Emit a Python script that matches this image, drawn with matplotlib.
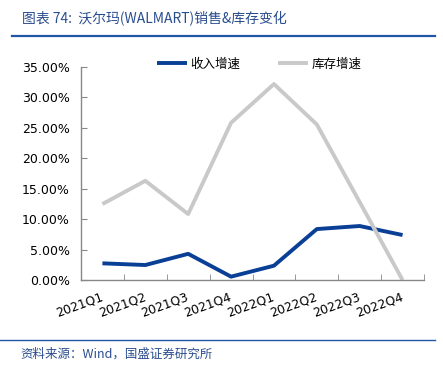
import numpy as np
import matplotlib.pyplot as plt
from matplotlib.ticker import FuncFormatter, FixedLocator

plt.rcParams['font.family'] = ['DejaVu Sans', 'Noto Sans CJK SC']

quarters = ["2021Q1", "2021Q2", "2021Q3", "2021Q4",
            "2022Q1", "2022Q2", "2022Q3", "2022Q4"]
revenue_growth = [0.0274, 0.0246, 0.0430, 0.0055, 0.0235, 0.0837, 0.0887, 0.0739]
inventory_growth = [0.1248, 0.1630, 0.1084, 0.2583, 0.3220, 0.2556, 0.1280, 0.0]

BLUE = "#0A3F96"
GRAY = "#C9C9C9"
TEXT_BLUE = "#2A4D8F"
CJK = ['Noto Sans CJK SC', 'DejaVu Sans']

fig = plt.figure(figsize=(4.43, 3.76), dpi=100)
ax = fig.add_axes([81 / 443, 1 - 280 / 376, 343 / 443, 213 / 376])

x = np.arange(len(quarters))
ax.plot(x, revenue_growth, color=BLUE, lw=2.8, label="收入增速", solid_capstyle="butt")
ax.plot(x, inventory_growth, color=GRAY, lw=2.8, label="库存增速", solid_capstyle="butt")

ax.set_xlim(-0.5, len(quarters) - 0.5)
ax.set_ylim(0, 0.35)
ax.set_yticks(np.arange(0, 0.351, 0.05))
ax.yaxis.set_major_formatter(FuncFormatter(lambda v, p: f"{v * 100:.2f}%"))

ax.set_xticks(x)
ax.set_xticklabels(quarters, rotation=20, ha="right", va="center",
                   rotation_mode="anchor", fontsize=9)
ax.xaxis.set_minor_locator(FixedLocator(np.arange(-0.5, len(quarters), 1)))
ax.tick_params(axis="x", which="major", length=0, pad=12)
ax.tick_params(axis="x", which="minor", direction="in", length=4, color="#888888")
ax.tick_params(axis="y", direction="in", length=4, color="#888888", labelsize=9, pad=8)

for side in ["top", "right"]:
    ax.spines[side].set_visible(False)
for side in ["left", "bottom"]:
    ax.spines[side].set_color("#888888")
    ax.spines[side].set_linewidth(1.0)

leg = ax.legend(loc="center", bbox_to_anchor=(0.52, 1.015), ncol=2, frameon=False,
                prop={"family": CJK, "size": 9}, handlelength=2.4, columnspacing=3.0,
                handletextpad=0.3)

# header and footer
fig.text(22 / 443, 1 - 19 / 376, "图表 74:  沃尔玛(WALMART)销售&库存变化", color=TEXT_BLUE,
         fontsize=10, family=CJK, style="italic", va="center", ha="left")
fig.add_artist(plt.Line2D([12 / 443, 435 / 443], [1 - 36 / 376, 1 - 36 / 376],
                          color="#1F56A5", lw=1.6))
fig.add_artist(plt.Line2D([0, 435 / 443], [1 - 340 / 376, 1 - 340 / 376],
                          color="#1F56A5", lw=1.0))
fig.text(20 / 443, 1 - 354 / 376, "资料来源：Wind，国盛证券研究所", color=TEXT_BLUE,
         fontsize=9, family=CJK, style="italic", va="center", ha="left")

fig.savefig("out.png", dpi=100)
